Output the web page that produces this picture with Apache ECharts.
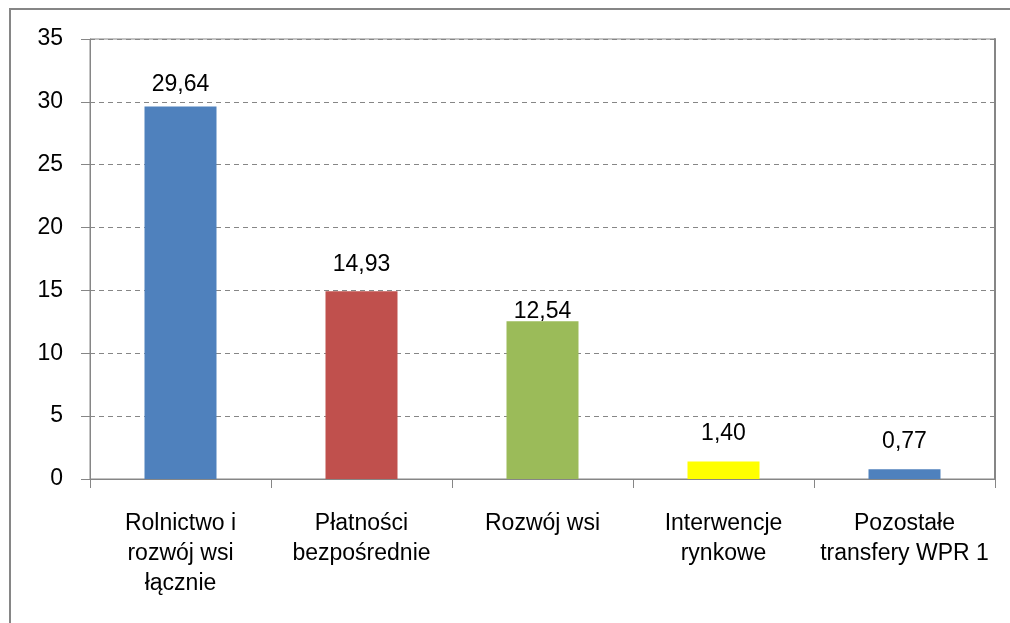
<!DOCTYPE html>
<html>
<head>
<meta charset="utf-8">
<script src="https://cdn.jsdelivr.net/npm/echarts@6/dist/echarts.min.js"></script>
<style>
html, body { margin: 0; padding: 0; background: #fff; overflow: hidden; }
#chart { position: absolute; left: 0; top: 0; width: 1010px; height: 623px; }
#frame { position: absolute; left: 9px; top: 8px; width: 1100px; height: 700px;
  border-left: 2px solid #868686; border-top: 2px solid #868686; pointer-events: none; }
</style>
</head>
<body>
<div id="chart"></div>
<div id="frame"></div>
<script>
const categories = ['Rolnictwo i\nrozwój wsi\nłącznie', 'Płatności\nbezpośrednie', 'Rozwój wsi', 'Interwencje\nrynkowe', 'Pozostałe\ntransfery WPR 1'];
const values = [29.64, 14.93, 12.54, 1.40, 0.77];
const yTicks = [0, 5, 10, 15, 20, 25, 30, 35];

const barColors = ['#4F81BD', '#C0504D', '#9BBB59', '#FFFF00', '#4F81BD'];
const labelDistances = [10, 15, -2, 16, 16];

const FONT = 'Liberation Sans';
const chart = echarts.init(document.getElementById('chart'), null, { renderer: 'canvas' });

const seriesData = values.map((v, i) => ({
  value: v,
  itemStyle: { color: barColors[i] },
  label: { distance: labelDistances[i] }
}));

chart.setOption({
  backgroundColor: '#fff',
  animation: false,
  grid: { left: 90, right: 15, top: 39, bottom: 144, show: true, borderColor: '#868686', borderWidth: 1, backgroundColor: 'transparent' },
  xAxis: {
    type: 'category',
    data: categories,
    boundaryGap: true,
    axisLine: { show: true, lineStyle: { color: '#868686', width: 1 } },
    axisTick: { show: true, length: 9, alignWithLabel: false, lineStyle: { color: '#868686' } },
    axisLabel: { color: '#000', fontFamily: FONT, fontSize: 23, lineHeight: 30, margin: 30, interval: 0 }
  },
  yAxis: [{
    type: 'value',
    min: yTicks[0],
    max: yTicks[yTicks.length - 1],
    interval: yTicks[1] - yTicks[0],
    axisLine: { show: true, lineStyle: { color: '#868686', width: 1 } },
    axisTick: { show: true, length: 9, lineStyle: { color: '#868686' } },
    axisLabel: { color: '#000', fontFamily: FONT, fontSize: 23, margin: 27, formatter: v => String(v) },
    splitLine: { show: true, lineStyle: { color: '#868686', width: 1, type: [5, 4] } }
  }, {
    type: 'value',
    position: 'right',
    min: yTicks[0],
    max: yTicks[yTicks.length - 1],
    interval: yTicks[1] - yTicks[0],
    axisLine: { show: true, lineStyle: { color: '#868686', width: 2 } },
    axisTick: { show: false },
    axisLabel: { show: false },
    splitLine: { show: false }
  }],
  series: [{
    type: 'bar',
    data: seriesData,
    barWidth: 72,
    label: {
      show: true,
      position: 'top',
      color: '#000',
      fontFamily: FONT,
      fontSize: 23,
      lineHeight: 24,
      formatter: p => p.value.toFixed(2).replace('.', ',')
    }
  }]
});
</script>
</body>
</html>
